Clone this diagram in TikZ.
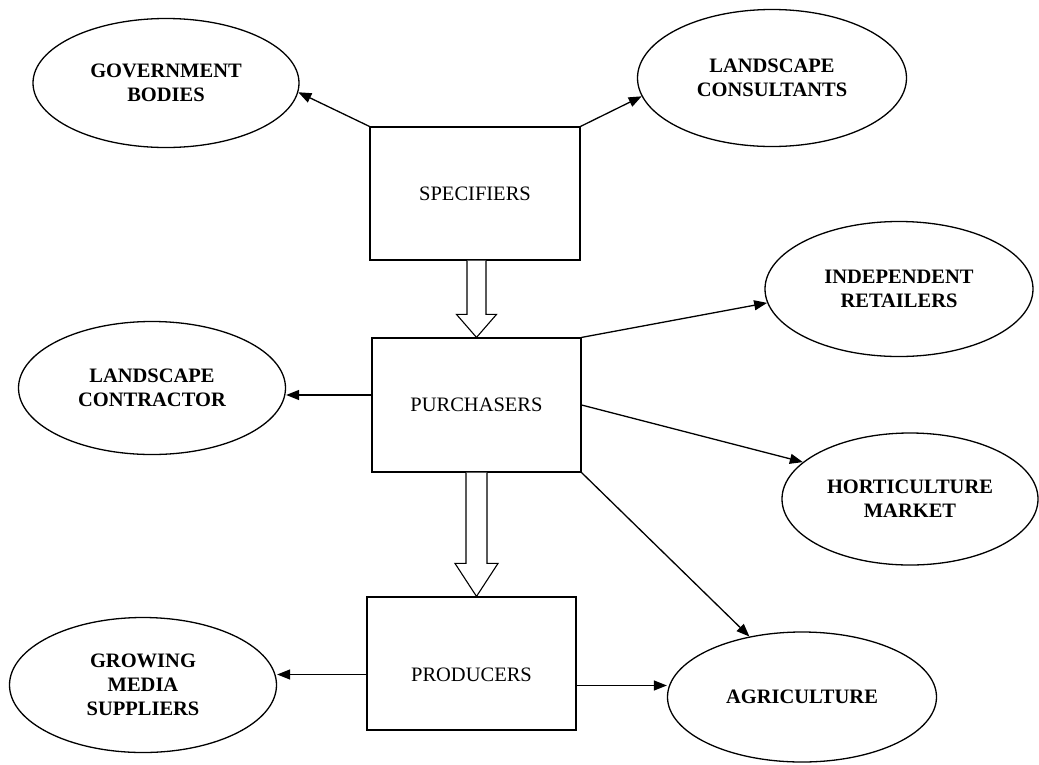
\documentclass[tikz,border=0pt]{standalone}
\usepackage{fontspec}
\setmainfont{Liberation Serif}
\usetikzlibrary{shapes.geometric,arrows.meta,calc}
\begin{document}
\begin{tikzpicture}[x=1pt,y=-1pt,
  oval/.style={draw,ellipse,line width=1.3pt,inner sep=0pt,align=center,
    font=\fontsize{20.5}{24}\selectfont\bfseries},
  box/.style={draw,rectangle,line width=1.2pt,inner sep=0pt,
    font=\fontsize{20.5}{24}\selectfont},
  conn/.style={line width=1.3pt,-{Triangle[length=13pt,width=10pt]}},
  hollow/.style={draw,line width=1.1pt,fill=white,line join=miter}]
\useasboundingbox (0,0) rectangle (1039,764);

% ellipses
\node[oval,minimum width=266pt,minimum height=129pt] (gov)   at (166,83)  {GOVERNMENT\\BODIES};
\node[oval,minimum width=269pt,minimum height=137pt] (lcons) at (772,78)  {LANDSCAPE\\CONSULTANTS};
\node[oval,minimum width=268pt,minimum height=135pt] (indep) at (899,289) {INDEPENDENT\\RETAILERS};
\node[oval,minimum width=267pt,minimum height=133pt] (lcont) at (152,388) {LANDSCAPE\\CONTRACTOR};
\node[oval,minimum width=256pt,minimum height=132pt] (hort)  at (910,499) {HORTICULTURE\\MARKET};
\node[oval,minimum width=267pt,minimum height=135pt] (grow)  at (143,685) {GROWING\\MEDIA\\SUPPLIERS};
\node[oval,minimum width=269pt,minimum height=130pt] (agri)  at (802,697) {AGRICULTURE};

% boxes
\node[box,minimum width=210pt,minimum height=133pt] (spec)  at (475,193.5)   {SPECIFIERS};
\node[box,minimum width=209pt,minimum height=134pt] (purch) at (476.5,405)   {PURCHASERS};
\node[box,minimum width=209pt,minimum height=133pt] (prod)  at (471.5,663.5) {\raisebox{-18pt}[0pt][0pt]{PRODUCERS}};

% connectors
\draw[conn] (spec.north west) -- (gov.-4);
\draw[conn] (spec.north east) -- (lcons.188);
\draw[conn] (purch.north east) -- (indep.186);
\draw[conn] ([yshift=10pt]purch.west) -- ([yshift=10pt]purch.west -| lcont.east);
\draw[conn] (purch.east) -- (hort.161);
\draw[conn] (purch.south east) -- (agri.131);
\draw[conn] ([yshift=-11pt]prod.west) -- ([yshift=-11pt]prod.west -| grow.east);
\draw[conn] ([yshift=-22pt]prod.east) -- ([yshift=-22pt]prod.east -| agri.west);

% hollow block arrows
\coordinate (t1) at (purch.north);
\coordinate (s1) at (spec.south -| purch.north);
\draw[hollow] ($(s1)+(-9.5,0)$) -- ($(t1)+(-9.5,-23)$) -- ($(t1)+(-20,-23)$) -- (t1)
  -- ($(t1)+(20,-23)$) -- ($(t1)+(9.5,-23)$) -- ($(s1)+(9.5,0)$);
\coordinate (t2) at (purch.south |- prod.north);
\coordinate (s2) at (purch.south);
\draw[hollow] ($(s2)+(-10.5,0)$) -- ($(t2)+(-10.5,-33)$) -- ($(t2)+(-21.5,-33)$) -- (t2)
  -- ($(t2)+(21.5,-33)$) -- ($(t2)+(10.5,-33)$) -- ($(s2)+(10.5,0)$);
\end{tikzpicture}
\end{document}
